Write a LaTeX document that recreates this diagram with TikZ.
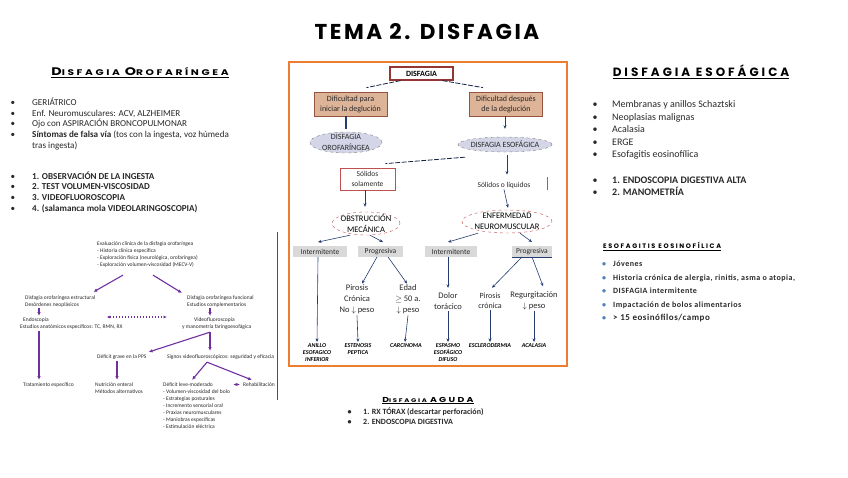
\documentclass[tikz,border=0pt]{standalone}
\usepackage{fontspec}
\setmainfont{Carlito}
\newfontfamily\titlefont{Poppins}[LetterSpace=12]
\newfontfamily\headfont{Poppins}[FakeStretch=1.3, LetterSpace=32]
\newfontfamily\capsfont{Poppins}[LetterSpace=25]
\usepackage{xcolor}
\usetikzlibrary{shapes.geometric,arrows.meta,positioning}

\definecolor{frameorange}{RGB}{237,125,49}
\definecolor{boxred}{RGB}{148,54,52}
\definecolor{tanfill}{RGB}{221,180,152}
\definecolor{tanline}{RGB}{150,84,62}
\definecolor{ovalfill}{RGB}{212,214,232}
\definecolor{navy}{RGB}{36,60,112}
\definecolor{dashred}{RGB}{192,80,77}
\definecolor{algpurple}{RGB}{112,48,160}
\definecolor{bulletblue}{RGB}{79,129,189}
\definecolor{textgray}{RGB}{40,40,40}

\begin{document}
\begin{tikzpicture}[x=1pt, y=-1pt,
    topbox/.style={draw=boxred, line width=1.2pt, fill=white, minimum width=63pt, minimum height=13pt, inner sep=0pt, font=\bfseries\fontsize{8}{9}\selectfont},
    tanbox/.style={draw=tanline, fill=tanfill, line width=0.8pt, minimum width=73pt, minimum height=24pt, inner sep=0pt, align=center, text=textgray, font=\fontsize{8}{10}\selectfont},
    grayoval/.style={ellipse, draw=gray, dashed, fill=ovalfill, inner sep=-10pt, align=center, text=textgray, font=\fontsize{8}{11.5}\selectfont},
    redoval/.style={ellipse, draw=dashred, dashed, fill=white, inner sep=-10pt, align=center, font=\fontsize{8.5}{10.7}\selectfont},
    graybox/.style={fill=black!15, minimum height=10.5pt, inner sep=1pt, text=textgray, font=\fontsize{7.5}{8}\selectfont},
    cond/.style={align=center, inner sep=1pt, text=textgray, font=\fontsize{8.5}{11}\selectfont},
    diag/.style={align=center, inner sep=1pt, anchor=north, font=\bfseries\itshape\fontsize{6}{7.3}\selectfont},
    navyarrow/.style={draw=navy, -{Stealth[length=3.5pt,width=3pt]}, line width=0.6pt},
    navyline/.style={draw=navy, line width=1.4pt},
    dashline/.style={draw=navy!60!black, line width=0.8pt, dash pattern=on 5pt off 1.5pt},
    algtext/.style={align=left, anchor=north west, inner sep=0pt, text=black!85, font=\fontsize{5.5}{7}\selectfont},
    parrow/.style={draw=algpurple, line width=1.1pt, -{Latex[length=4pt,width=3.5pt]}},
    pdash/.style={draw=algpurple, line width=1.1pt, {Latex[length=3.5pt,width=3pt]}-{Latex[length=3.5pt,width=3pt]}, dash pattern=on 1.5pt off 1.5pt},
    heading/.style={inner sep=0pt, anchor=base, font=\headfont\bfseries},
    listtext/.style={inner sep=0pt, anchor=north west, align=left, text=textgray}
]
\useasboundingbox (0,0) rectangle (848,477);

% title
\node[font=\titlefont\bfseries\fontsize{21.5}{22}\selectfont] (title) at (427,32) {TEMA 2. DISFAGIA};

% ---- disfagia orofaringea
\node[heading] (orohead) at (140,75.5) {\fontsize{11}{10}\selectfont D\fontsize{8.2}{8}\selectfont ISFAGIA \fontsize{11}{10}\selectfont O\fontsize{8.2}{8}\selectfont ROFARÍNGEA};
\draw[line width=0.7pt] ([yshift=-2pt]orohead.base west) -- ([yshift=-2pt]orohead.base east);

\node[listtext] (orolist) at (10.5,97.5) {\fontsize{9.1}{10.7}\selectfont
\begin{tabular}{@{}p{21.5pt}@{}l@{}}
\textbullet & GERIÁTRICO\\
\textbullet & Enf. Neuromusculares: ACV, ALZHEIMER\\
\textbullet & Ojo con ASPIRACIÓN BRONCOPULMONAR\\
\textbullet & \textbf{Síntomas de falsa vía} (tos con la ingesta, voz húmeda\\
 & tras ingesta)\\[20pt]
\textbullet & \textbf{1. OBSERVACIÓN DE LA INGESTA}\\
\textbullet & \textbf{2. TEST VOLUMEN-VISCOSIDAD}\\
\textbullet & \textbf{3. VIDEOFLUOROSCOPIA}\\
\textbullet & \textbf{4. (salamanca mola VIDEOLARINGOSCOPIA)}
\end{tabular}};

% ---- algoritmo (imagen pequena)
\node[algtext] (eval) at (97,241) {Evaluación clínica de la disfagia orofaríngea\\- Historia clínica específica\\- Exploración física (neurológica, orofaríngea)\\- Exploración volumen-viscosidad (MECV-V)};
\node[algtext] (estr) at (25,295) {Disfagia orofaríngea estructural\\Desórdenes neoplásicos};
\node[algtext] (func) at (187,295) {Disfagia orofaríngea funcional\\Estudios complementarios};
\node[algtext] (endo) at (20,317) {\hspace*{3pt}Endoscopia\\Estudios anatómicos específicos: TC, RMN, RX};
\node[algtext] (video) at (182,317) {\hspace*{12pt}Videofluoroscopia\\y manometría faringoesofágica};
\node[algtext] (grave) at (97,354) {Déficit grave en la PPS};
\node[algtext] (signos) at (167,354) {Signos videofluoroscópicos: seguridad y eficacia};
\node[algtext] (trat) at (23,382) {Tratamiento específico};
\node[algtext] (nutri) at (95,382) {Nutrición enteral\\Métodos alternativos};
\node[algtext] (leve) at (163,382) {Déficit leve-moderado\\- Volumen-viscosidad del bolo\\- Estrategias posturales\\- Incremento sensorial oral\\- Praxias neuromusculares\\- Maniobras específicas\\- Estimulación eléctrica};
\node[algtext] (rehab) at (243,382) {Rehabilitación};

\draw[parrow] ([xshift=26pt,yshift=-8pt]eval.south west) -- ([xshift=-2pt,yshift=3pt]estr.north east);
\draw[parrow] ([xshift=56pt,yshift=-8pt]eval.south west) -- ([xshift=-5pt,yshift=2pt]func.north west);
\draw[parrow] ([xshift=14pt,yshift=-1pt]estr.south west) -- ([xshift=19pt,yshift=1pt]endo.north west);
\draw[parrow] ([xshift=23pt,yshift=-1pt]func.south west) -- ([xshift=28pt,yshift=1pt]video.north west);
\draw[pdash] ([xshift=-16pt]endo.north east) -- ([xshift=-15pt]video.north west);
\draw[parrow] ([xshift=19pt,yshift=-2pt]endo.south west) -- ([xshift=16pt,yshift=2pt]trat.north west);
\draw[parrow] ([xshift=28pt,yshift=-3pt]video.south west) -- ([xshift=2pt,yshift=2pt]grave.north east);
\draw[parrow] ([xshift=28pt,yshift=-3pt]video.south west) -- ([xshift=43pt,yshift=3pt]signos.north west);
\draw[parrow] ([xshift=20pt,yshift=-2pt]grave.south west) -- ([xshift=22pt,yshift=2pt]nutri.north west);
\draw[parrow] ([xshift=40pt,yshift=-3pt]signos.south west) -- ([xshift=29pt,yshift=2pt]leve.north west);
\draw[parrow] ([xshift=40pt,yshift=-3pt]signos.south west) -- ([xshift=9pt,yshift=2pt]rehab.north west);
\draw[pdash] ([xshift=3pt,yshift=-2.5pt]leve.north east) -- ([xshift=-3pt,yshift=-2.5pt]rehab.north west);
\draw[algpurple, line width=0.8pt] (277,232) -- (277,400);

% ---- esquema central
\draw[frameorange, line width=1.8pt] (289,62) rectangle (567,366);

\node[topbox] (disf) at (421.5,73.5) {DISFAGIA};
\node[tanbox] (dif1) at (350.5,104) {Dificultad para\\iniciar la deglución};
\node[tanbox] (dif2) at (506,104) {Dificultad después\\de la deglución};
\node[grayoval, minimum width=72pt, minimum height=21pt] (oro) at (346,142.5) {DISFAGIA\\OROFARÍNGEA};
\node[grayoval, minimum width=94pt, minimum height=15pt] (eso) at (505,144.5) {DISFAGIA ESOFÁGICA};
\node[draw=dashred, line width=0.8pt, minimum width=55pt, minimum height=22pt, inner sep=0pt, align=center, text=textgray, font=\fontsize{7.5}{10}\selectfont] (sol) at (367.5,179) {Sólidos\\solamente};
\node[cond, font=\fontsize{7.5}{9}\selectfont] (liq) at (504,185) {Sólidos o líquidos};
\draw[dashred, line width=0.8pt] (547,177) -- (547,190);
\node[redoval, minimum width=68pt, minimum height=23pt] (obs) at (366,223.5) {OBSTRUCCIÓN\\MECÁNICA};
\node[redoval, minimum width=90pt, minimum height=23pt] (neu) at (507,221.5) {ENFERMEDAD\\NEUROMUSCULAR};
\node[graybox, minimum width=54pt] (int1) at (320,251.5) {Intermitente};
\node[graybox, minimum width=45pt] (pro1) at (380.5,251.5) {Progresiva};
\node[graybox, minimum width=52pt] (int2) at (451,251.5) {Intermitente};
\node[graybox, minimum width=40pt] (pro2) at (532,251.5) {Progresiva};
\draw[navy, line width=0.8pt] (pro2.south west) -- (pro2.south east);

\node[cond] (c1) at (357,299.5) {Pirosis\\Crónica\\No $\downarrow$ peso};
\node[cond] (c2) at (408,299.5) {Edad\\$\geq$ 50 a.\\$\downarrow$ peso};
\node[cond] (c3) at (448,301.5) {Dolor\\torácico};
\node[cond, font=\fontsize{8}{10.5}\selectfont] (c4) at (490,301) {Pirosis\\crónica};
\node[cond] (c5) at (534,300.5) {Regurgitación\\$\downarrow$ peso};

\node[diag] (d1) at (317,342) {ANILLO\\ESOFAGICO\\INFERIOR};
\node[diag] (d2) at (358,342) {ESTENOSIS\\PEPTICA};
\node[diag] (d3) at (406,342) {CARCINOMA};
\node[diag] (d4) at (448,342) {ESPASMO\\ESOFÁGICO\\DIFUSO};
\node[diag] (d5) at (490,342) {ESCLERODERMIA};
\node[diag] (d6) at (534,342) {ACALASIA};

\draw[dashline] ([xshift=-21pt]disf.south) -- ([xshift=16pt,yshift=4pt]dif1.north);
\draw[dashline] ([xshift=21pt]disf.south) -- ([xshift=-23pt,yshift=4pt]dif2.north);
\draw[navyline] ([xshift=-4.5pt]dif1.south) -- ([yshift=3pt]oro.north);
\draw[navyarrow] ([xshift=-1pt]dif2.south) -- ([yshift=8pt]eso.north);
\draw[dashline] ([xshift=-40pt,yshift=-5pt]eso.south) -- ([xshift=18pt,yshift=4pt]sol.north);
\draw[navyarrow] ([xshift=2pt,yshift=-3pt]eso.south) -- ([xshift=3pt,yshift=6pt]liq.north);
\draw[navyarrow] ([xshift=-2.5pt]sol.south) -- ([xshift=-1pt,yshift=5pt]obs.north);
\draw[navyarrow] (liq.south) -- ([xshift=1pt,yshift=2pt]neu.north);
\draw[navyarrow] ([xshift=-16pt]obs.south) -- ([xshift=-2pt,yshift=4pt]int1.north);
\draw[navyarrow] ([xshift=4pt]obs.south) -- ([xshift=2.5pt,yshift=4pt]pro1.north);
\draw[navyarrow] ([xshift=-29pt]neu.south) -- ([xshift=-3pt,yshift=4pt]int2.north);
\draw[navyarrow] ([xshift=13pt]neu.south) -- ([yshift=4pt]pro2.north);
\draw[navyarrow] ([xshift=-2pt]int1.south) -- (d1.north);
\draw[navyarrow] ([xshift=-3.5pt]pro1.south) -- ([xshift=5pt]c1.north);
\draw[navyarrow] ([xshift=7.5pt]pro1.south) -- ([xshift=-1pt]c2.north);
\draw[navyarrow] ([xshift=-3pt]int2.south) -- ([yshift=4pt]c3.north);
\draw[navyarrow] ([xshift=-10pt]pro2.south) -- ([xshift=2pt,yshift=4pt]c4.north);
\draw[navyarrow] (pro2.south) -- ([xshift=9pt,yshift=4pt]c5.north);
\draw[navyarrow] (c1.south) -- (d2.north);
\draw[navyarrow] (c2.south) -- ([xshift=-1pt]d3.north);
\draw[navyarrow] (c3.south) -- (d4.north);
\draw[navyarrow] (c4.south) -- (d5.north);
\draw[navyarrow] (c5.south) -- (d6.north);

% ---- disfagia esofagica
\node[heading, font=\capsfont\bfseries] (esohead) at (701,76) {\fontsize{12}{12}\selectfont DISFAGIA ESOFÁGICA};
\draw[line width=0.7pt] ([yshift=-2pt]esohead.base west) -- ([yshift=-2pt]esohead.base east);

\node[listtext] (esolist) at (592.5,99) {\fontsize{10}{12.5}\selectfont
\begin{tabular}{@{}p{19.5pt}@{}l@{}}
\textbullet & Membranas y anillos Schaztski\\
\textbullet & Neoplasias malignas\\
\textbullet & Acalasia\\
\textbullet & ERGE\\
\textbullet & Esofagitis eosinofílica\\[13pt]
\textbullet & \textbf{1. ENDOSCOPIA DIGESTIVA ALTA}\\
\textbullet & \textbf{2. MANOMETRÍA}
\end{tabular}};

% ---- esofagitis eosinofilica
\node[heading, anchor=base west, font=\capsfont\bfseries\fontsize{6.5}{7}\selectfont] (eeohead) at (603,248.5) {ESOFAGITIS EOSINOFÍLICA};
\draw[line width=0.6pt] ([yshift=-1.5pt]eeohead.base west) -- ([yshift=-1.5pt]eeohead.base east);

\node[listtext] (eeolist) at (602,257) {\fontsize{8}{13.5}\selectfont\bfseries\addfontfeature{LetterSpace=6}%
\begin{tabular}{@{}p{11pt}@{}l@{}}
\textcolor{bulletblue}{\textbullet} & Jóvenes\\
\textcolor{bulletblue}{\textbullet} & Historia crónica de alergia, rinitis, asma o atopia,\\
\textcolor{bulletblue}{\textbullet} & DISFAGIA intermitente\\
\textcolor{bulletblue}{\textbullet} & Impactación de bolos alimentarios\\
\textcolor{bulletblue}{\textbullet} & {\fontsize{9}{10}\selectfont > 15 eosinófilos/campo}
\end{tabular}};

% ---- disfagia aguda
\node[heading] (agudahead) at (428,402) {\fontsize{7.2}{8}\selectfont D\fontsize{5.3}{6}\selectfont ISFAGIA \fontsize{7.2}{8}\selectfont AGUDA};
\draw[line width=0.6pt] ([yshift=-1.5pt]agudahead.base west) -- ([yshift=-1.5pt]agudahead.base east);

\node[listtext] (agudalist) at (347.5,407.5) {\fontsize{8}{10}\selectfont\bfseries
\begin{tabular}{@{}p{15.5pt}@{}l@{}}
\textbullet & 1. RX TÓRAX (descartar perforación)\\
\textbullet & 2. ENDOSCOPIA DIGESTIVA
\end{tabular}};

\end{tikzpicture}
\end{document}
